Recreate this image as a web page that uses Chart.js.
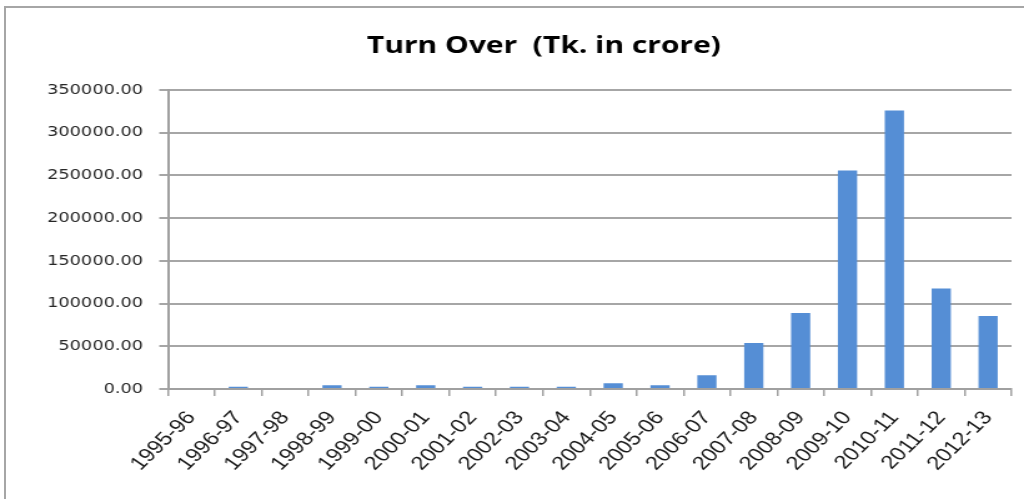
<!DOCTYPE html>
<html>
<head>
<meta charset="utf-8">
<script src="https://cdn.jsdelivr.net/npm/chart.js@4.4.0/dist/chart.umd.min.js"></script>
<style>
  html, body { margin: 0; padding: 0; background: #fff; overflow: hidden; }
  #frame {
    position: absolute; left: 4px; top: 6px; width: 1100px; height: 600px;
    border: 2px solid #a6a6a6;
  }
  #wrap {
    position: absolute; left: 0; top: 0; width: 820px; height: 499px;
    transform: scaleX(1.2488); transform-origin: 0 0;
  }
</style>
</head>
<body>
<div id="frame"></div>
<div id="wrap"><canvas id="chart"></canvas></div>
<script>
// fiscal years
var years = ['1995-96', '1996-97', '1997-98', '1998-99', '1999-00', '2000-01',
    '2001-02', '2002-03', '2003-04', '2004-05', '2005-06', '2006-07',
    '2007-08', '2008-09', '2009-10', '2010-11', '2011-12', '2012-13'];

// turn over, Tk. in crore
var turnOver = [0, 2700, 0, 4300, 2700, 4300, 2700, 2700, 2700, 6700, 4400, 16100,
    53700, 89000, 255900, 326000, 117600, 85500];

var chartTitle = 'Turn Over  (Tk. in crore)';

var titlePlugin = {
    id: 'excelTitle',
    afterDraw: function (chart) {
        var ctx = chart.ctx;
        ctx.save();
        ctx.font = 'bold 24px "Open Sans"';
        ctx.fillStyle = '#000';
        ctx.textAlign = 'center';
        ctx.textBaseline = 'alphabetic';
        ctx.fillText(chartTitle, 435.5, 53);
        ctx.restore();
    }
};

Chart.defaults.font.family = '"DejaVu Sans", Verdana, sans-serif';

var config = {
    type: 'bar',
    data: {
        labels: years,
        datasets: [{
            label: 'Turn Over',
            data: turnOver,
            backgroundColor: '#558ed5',
            borderWidth: 0,
            barPercentage: 0.41,
            categoryPercentage: 1.0
        }]
    },
    options: {
        responsive: true,
        maintainAspectRatio: false,
        animation: false,
        layout: {
            padding: { left: 0, right: 10, top: 90, bottom: 0 }
        },
        plugins: {
            legend: { display: false },
            tooltip: { enabled: false }
        },
        scales: {
            x: {
                afterFit: function (scale) { scale.height = 110; },
                grid: {
                    offset: true,
                    drawOnChartArea: false,
                    drawTicks: true,
                    tickLength: 7,
                    color: '#a0a0a0',
                    lineWidth: 1.5
                },
                border: { color: '#a0a0a0', width: 2 },
                ticks: {
                    autoSkip: false,
                    minRotation: 50,
                    maxRotation: 50,
                    padding: 11,
                    color: '#1a1a1a',
                    font: { family: '"Liberation Sans", Arial, sans-serif', size: 19 }
                }
            },
            y: {
                min: 0,
                max: 350000,
                afterFit: function (scale) { scale.width = 134.5; },
                grid: {
                    color: '#a6a6a6',
                    lineWidth: 2,
                    drawTicks: true,
                    tickLength: 7
                },
                border: { color: '#a0a0a0', width: 2 },
                ticks: {
                    stepSize: 50000,
                    padding: 13,
                    color: '#262626',
                    font: { size: 14.2 },
                    callback: function (v) { return v.toFixed(2); }
                }
            }
        }
    },
    plugins: [titlePlugin]
};

new Chart(document.getElementById('chart'), config);
</script>
</body>
</html>
